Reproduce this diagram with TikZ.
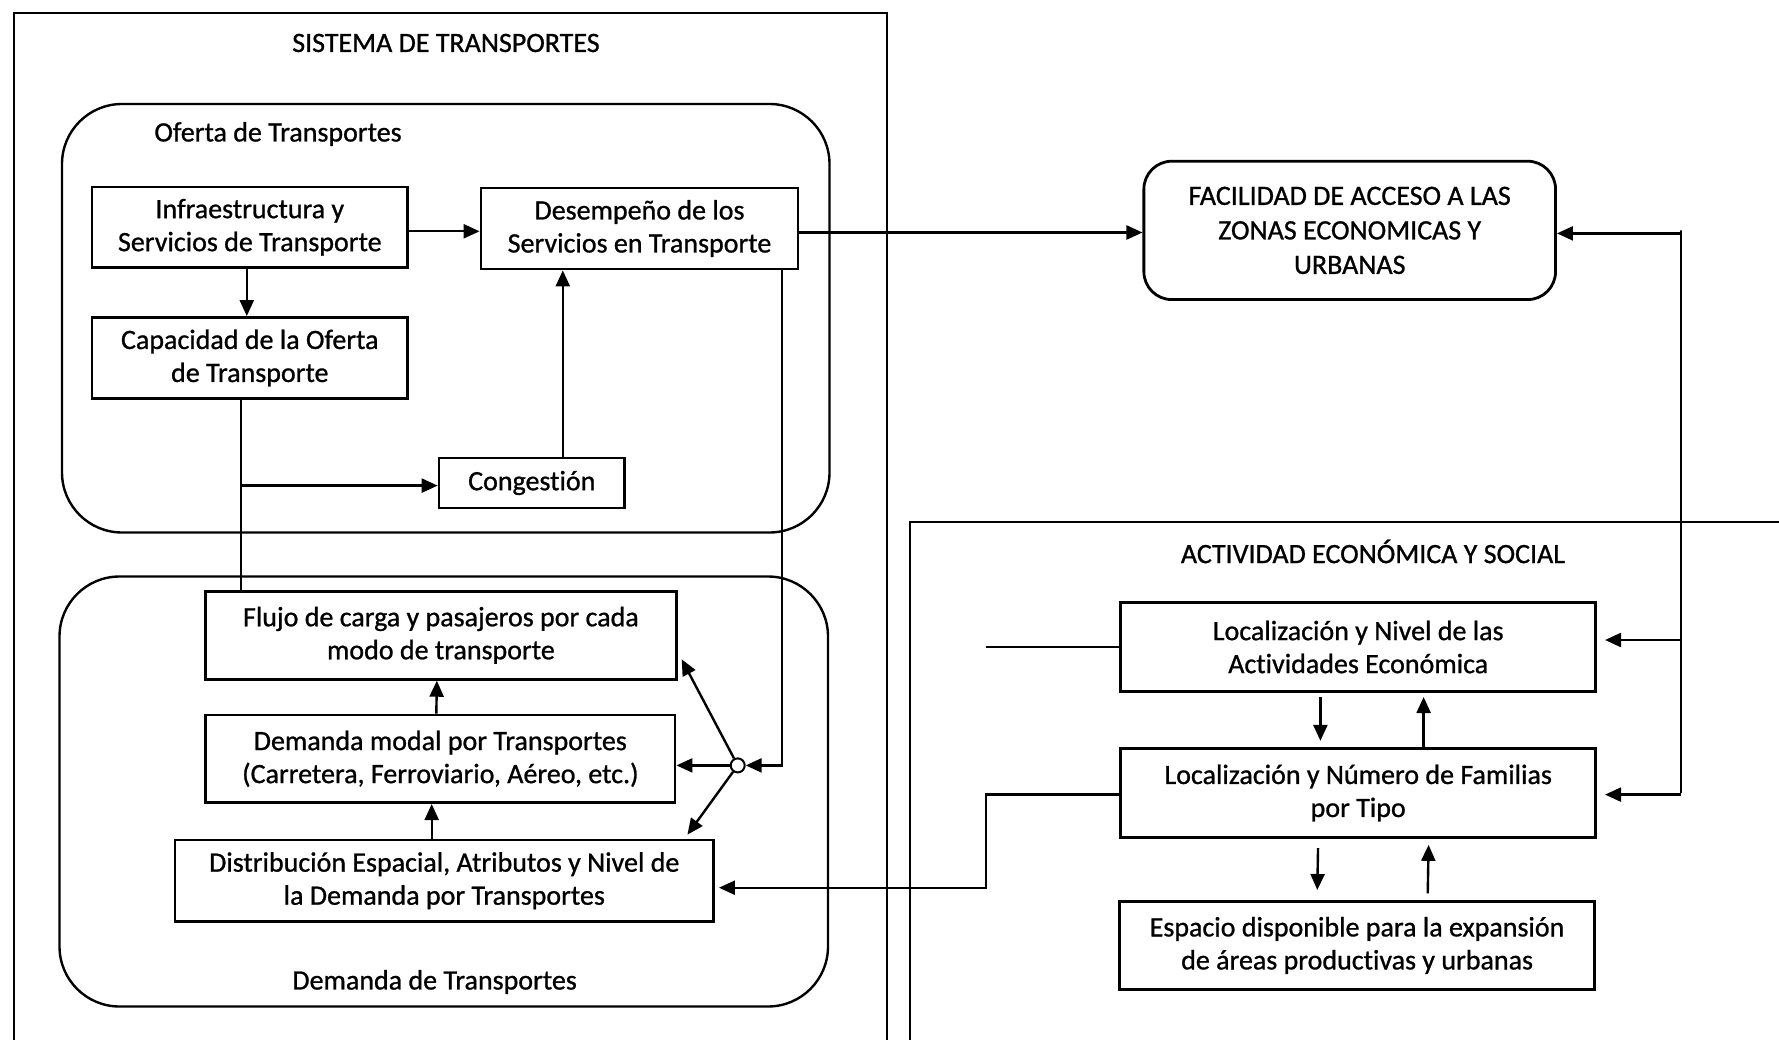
\documentclass[tikz,border=0pt]{standalone}
\usepackage{fontspec}
\setmainfont{Carlito}[FakeBold=0.9,Ligatures=NoCommon]
\usetikzlibrary{arrows.meta,calc}
\begin{document}
\begin{tikzpicture}[x=1pt,y=-1pt,
  every node/.style={font=\fontsize{28}{33}\selectfont},
  bx/.style={draw,line width=2.8pt,align=center,inner sep=0pt},
  cont/.style={draw,line width=2.4pt},
  arr/.style={line width=2.4pt,-{Triangle[length=16pt,width=14pt]}},
  ln/.style={line width=2.4pt}]
\useasboundingbox (0,0) rectangle (1779,1040);
\fill[white] (0,0) rectangle (1779,1040);
% containers
\draw[cont] (14,1045) -- (14,13) -- (887,13) -- (887,1045);
\draw[cont] (910,1045) -- (910,522) -- (1785,522);
\draw[cont,rounded corners=60pt] (62,104) rectangle (829.5,532.5);
\draw[cont,rounded corners=60pt] (59.5,576.5) rectangle (828,1006.5);
% titles
\node (tsis) at (446,43) {SISTEMA DE TRANSPORTES};
\node (tofe) at (278,134) {Oferta de Transportes};
\node (tdem) at (434.6,982) {Demanda de Transportes};
\node (tact) at (1373,551.5) {ACTIVIDAD ECONÓMICA Y SOCIAL};
% boxes
\node[bx,minimum width=315.6pt,minimum height=80.6pt] (infra) at (249.8,227.3) {Infraestructura y\\Servicios de Transporte};
\node[bx,minimum width=317pt,minimum height=81pt] (desemp) at (639.5,228.5) {Desempeño de los\\Servicios en Transporte};
\node[bx,minimum width=315.6pt,minimum height=81pt] (capac) at (249.8,358) {Capacidad de la Oferta\\de Transporte};
\node[bx,minimum width=185.5pt,minimum height=50pt] (congest) at (531.8,483) {Congestión};
\node[bx,minimum width=470.7pt,minimum height=88pt] (flujo) at (440.9,635.3) {Flujo de carga y pasajeros por cada\\modo de transporte};
\node[bx,minimum width=469.5pt,minimum height=87.6pt] (dmodal) at (440.3,758.8) {Demanda modal por Transportes\\(Carretera, Ferroviario, Aéreo, etc.)};
\node[bx,minimum width=538.5pt,minimum height=81.3pt] (distr) at (444.3,880.7) {Distribución Espacial, Atributos y Nivel de\\la Demanda por Transportes};
\node[bx,rounded corners=28pt,minimum width=411.7pt,minimum height=138.4pt,font=\fontsize{28}{34.5}\selectfont] (facil) at (1349.7,230.4) {FACILIDAD DE ACCESO A LAS\\ZONAS ECONOMICAS Y\\URBANAS};
\node[bx,minimum width=474.8pt,minimum height=89.2pt] (locniv) at (1358.2,647) {Localización y Nivel de las\\Actividades Económica};
\node[bx,minimum width=474.8pt,minimum height=89.5pt] (locnum) at (1358.2,793) {Localización y Número de Familias\\por Tipo};
\node[bx,minimum width=474.8pt,minimum height=88pt] (espacio) at (1357.1,945.4) {Espacio disponible para la expansión\\de áreas productivas y urbanas};
\node[draw,circle,fill=white,minimum size=14pt,inner sep=0pt,line width=2pt] (hub) at (737.7,765.4) {};
% helper coordinates
\coordinate (rv) at (1681,0);
\coordinate (lx) at (986,0);
% supply connectors
\draw[arr] ([yshift=-4pt]infra.east) -- ([yshift=-4pt]infra.east -| desemp.west);
\draw[arr] ([xshift=-3pt]infra.south) -- ([xshift=-3pt]capac.north);
\draw[ln] ([xshift=-9pt]capac.south) -- ([xshift=-9pt]capac.south |- flujo.north);
\coordinate (cb) at ([xshift=-9pt]capac.south |- congest.west);
\draw[arr] ([yshift=-2.6pt]cb) -- ([yshift=-2.6pt]congest.west);
\draw[arr] ([xshift=31pt]congest.north) -- ([xshift=31pt]congest.north |- desemp.south);
\draw[arr] ([yshift=-4pt]desemp.east) -- ([yshift=-4pt]desemp.east -| facil.west);
\draw[arr] ([xshift=142.5pt]desemp.south) |- (hub.east);
% demand connectors
\draw[arr] (hub.west) -- (hub.west -| dmodal.east);
\draw[arr] (hub) -- ([shift={(4pt,-24pt)}]flujo.east);
\draw[arr] (hub) -- ([shift={(-27.5pt,4pt)}]distr.north east);
\draw[arr] ([xshift=-4pt]dmodal.north) -- ([xshift=-4pt]flujo.south);
\draw[arr] ([xshift=-12.6pt]distr.north) -- ([xshift=-12.6pt]distr.north |- dmodal.south);
% right side connectors
\draw[arr] (rv |- locnum.east) -- (rv |- facil.east) -- ([yshift=-3pt]facil.east -| rv) -- ([yshift=-3pt]facil.east);
\draw[arr] ([yshift=7pt]locniv.east -| rv) -- ([shift={(8pt,7pt)}]locniv.east);
\draw[arr] ([yshift=-1.6pt]locnum.east -| rv) -- ([shift={(8pt,-1.6pt)}]locnum.east);
% left side connectors
\draw[ln] (locniv.west) -- (locniv.west -| lx);
\draw[arr] ([yshift=-1.6pt]locnum.west) -- ([yshift=-1.6pt]locnum.west -| lx) |- ([shift={(4pt,-7pt)}]distr.east);
% internal activity connectors
\draw[arr,shorten <=4pt,shorten >=6pt] ([xshift=-37.8pt]locniv.south) -- ([xshift=-37.8pt]locnum.north);
\draw[arr,shorten >=4pt] ([xshift=65.4pt]locnum.north) -- ([xshift=65.4pt]locniv.south);
\draw[arr,shorten <=9pt,shorten >=10pt] ([xshift=-40pt]locnum.south) -- ([xshift=-40pt]espacio.north);
\draw[arr,shorten <=6.6pt,shorten >=5.7pt] ([xshift=70.5pt]espacio.north) -- ([xshift=70.5pt]locnum.south);
\end{tikzpicture}
\end{document}
